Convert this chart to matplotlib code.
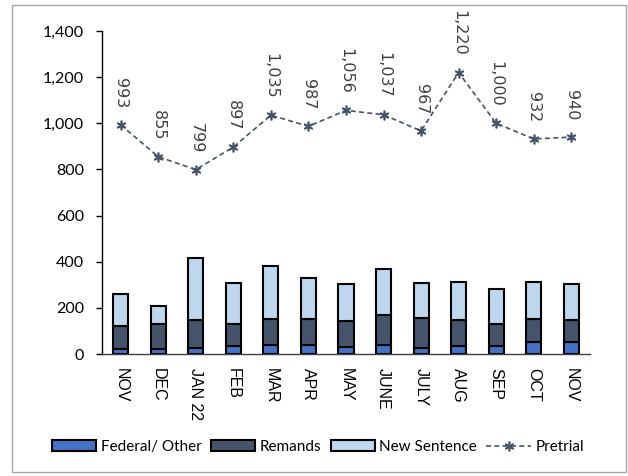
import matplotlib
matplotlib.use("Agg")
import matplotlib.pyplot as plt
from matplotlib.patches import Rectangle
from matplotlib.ticker import FuncFormatter, MultipleLocator
import numpy as np

months = ["NOV", "DEC", "JAN 22", "FEB", "MAR", "APR", "MAY", "JUNE", "JULY", "AUG", "SEP", "OCT", "NOV"]
federal = [22, 23, 26, 33, 37, 40, 29, 40, 26, 36, 35, 53, 50]
remands_top = [123, 128, 146, 131, 152, 150, 141, 169, 157, 146, 128, 150, 147]
total_top = [261, 209, 414, 308, 380, 329, 303, 370, 309, 313, 282, 313, 303]
pretrial = [993, 855, 799, 897, 1035, 987, 1056, 1037, 967, 1220, 1000, 932, 940]

remands = [r - f for r, f in zip(remands_top, federal)]
new_sentence = [t - r for t, r in zip(total_top, remands_top)]

c_fed = "#4472C4"
c_rem = "#44546A"
c_new = "#BDD7EE"

fig = plt.figure(figsize=(6.28, 4.76), dpi=100)
ax = fig.add_axes([102/628, 1-354/476, 488/628, (354-31)/476])

x = np.arange(len(months))
w = 0.4
b1 = ax.bar(x, federal, w, color=c_fed, edgecolor="black", linewidth=1.5, label="Federal/ Other", zorder=2)
b2 = ax.bar(x, remands, w, bottom=federal, color=c_rem, edgecolor="black", linewidth=1.5, label="Remands", zorder=2)
b3 = ax.bar(x, new_sentence, w, bottom=remands_top, color=c_new, edgecolor="black", linewidth=1.5, label="New Sentence", zorder=2)
ln, = ax.plot(x, pretrial, linestyle=(0, (3, 2)), color=c_rem, linewidth=1.2,
              marker=(6, 2, 0), markersize=7, markeredgewidth=1.2, label="Pretrial", zorder=3)

for xi, v in zip(x, pretrial):
    ax.annotate(f"{v:,}", (xi, v), xytext=(0, 12), textcoords="offset points",
                ha="center", va="bottom", rotation=-90, fontsize=11.5,
                family="DejaVu Sans", color="#404040")

ax.set_xlim(-0.5, len(months) - 0.5)
ax.set_ylim(0, 1400)
ax.yaxis.set_major_locator(MultipleLocator(200))
ax.yaxis.set_major_formatter(FuncFormatter(lambda v, p: f"{int(v):,}"))
ax.set_xticks(x)
ax.set_xticklabels(months, rotation=-90, fontsize=11.5, family="Liberation Sans")
ax.tick_params(axis="x", length=0, pad=10)
ax.tick_params(axis="y", length=4, width=1, pad=9, labelsize=11.5)
for lab in ax.get_yticklabels():
    lab.set_family("Lato")
for s in ["top", "right"]:
    ax.spines[s].set_visible(False)
ax.spines["left"].set_linewidth(1.0)
ax.spines["bottom"].set_linewidth(1.0)
ax.spines["bottom"].set_color("#404040")

leg = fig.legend([b1, b2, b3, ln], ["Federal/ Other", "Remands", "New Sentence", "Pretrial"],
                 loc="center", bbox_to_anchor=(318/628, 1-447/476), ncol=4, frameon=False,
                 prop={"family": "Lato", "size": 11}, handlelength=2.9, handletextpad=0.3,
                 columnspacing=0.6)

fig.patches.append(Rectangle((12/628, 1-472/476), 614/628, 467/476, transform=fig.transFigure,
                             fill=False, edgecolor="#A6A6A6", linewidth=1.0))

fig.savefig("out.png", dpi=100)
